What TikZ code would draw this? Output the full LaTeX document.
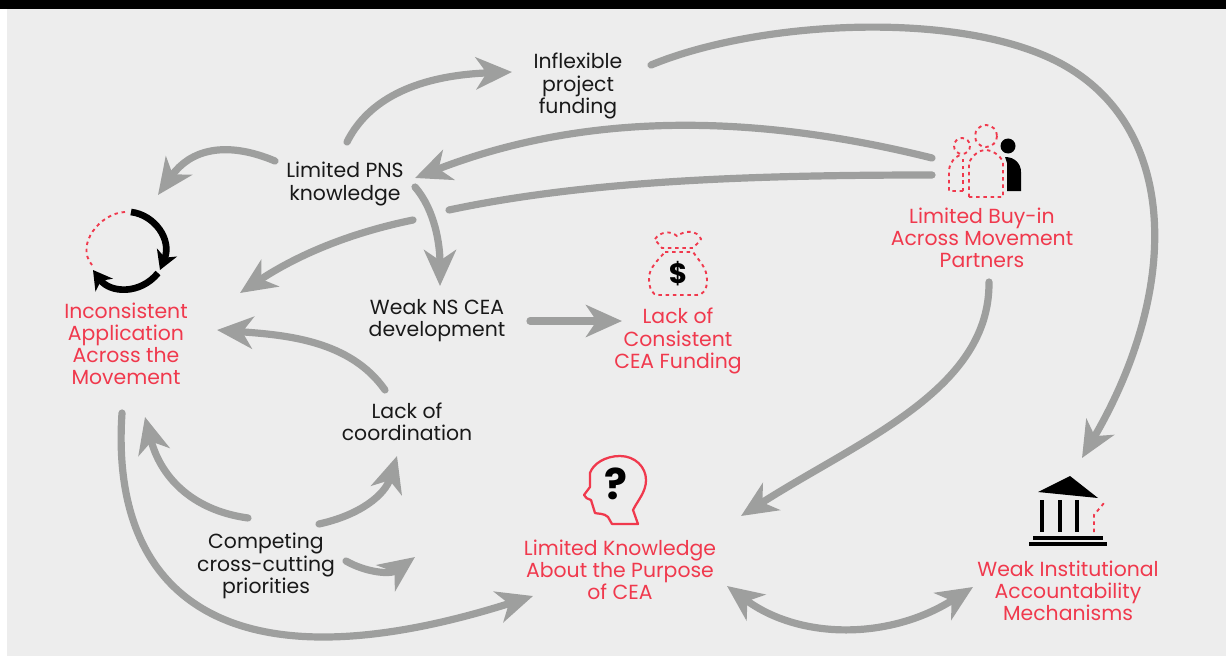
\documentclass[tikz,border=0pt]{standalone}
\usepackage{fontspec}
\setmainfont{Poppins}
\usetikzlibrary{arrows.meta}
\definecolor{panelgrey}{HTML}{EDEDED}
\definecolor{flowgrey}{HTML}{9E9F9E}
\definecolor{issuered}{HTML}{F0394D}
\tikzstyle{cause}=[align=center,inner sep=0pt,text=black!90,font=\fontsize{15.3}{16.6}\selectfont]
\tikzstyle{issue}=[cause,text=issuered]
\tikzstyle{flowline} = [draw=flowgrey,line width=5.4pt,line cap=round]
\tikzstyle{flow} = [flowline,-{Stealth[length=27pt,width=24pt,inset=8pt]}]
\tikzstyle{bothflow} = [flowline,{Stealth[length=27pt,width=24pt,inset=8pt]}-{Stealth[length=27pt,width=24pt,inset=8pt]}]
\tikzstyle{reddash} = [draw=issuered,line width=1.4pt,dash pattern=on 2.6pt off 2.8pt]
\begin{document}
\begin{tikzpicture}[x=0.75pt,y=-0.75pt]
    \useasboundingbox (0,0) rectangle (1226,656);
    \fill[panelgrey] (7,9) rectangle (1226,656);
    \fill[black] (0,0) rectangle (1226,9);

    \foreach \pos/\name/\label in {{(578,86)/fund/{Inflexible\\project\\funding}}, {(345,184)/pns/{Limited PNS\\knowledge}}, {(437,321)/weak/{Weak NS CEA\\development}}, {(407,422)/coord/{Lack of\\coordination}}, {(266,566)/comp/{Competing\\cross-cutting\\priorities}}}
        \node[cause] (\name) at \pos {\label};

    \foreach \pos/\name/\label in {{(126,344)/incons/{Inconsistent\\Application\\Across the\\Movement}}, {(678,341)/money/{Lack of\\Consistent\\CEA Funding}}, {(982,238)/buyin/{Limited Buy-in\\Across Movement\\Partners}}, {(620,570)/know/{Limited Knowledge\\About the Purpose\\of CEA}}, {(1068,591)/inst/{Weak Institutional\\Accountability\\Mechanisms}}}
        \node[issue] (\name) at \pos {\label};

    \coordinate (compend) at (415,557);

    % arrows
    \path[flow] ([shift={(2,-42)}]pns.center) .. controls (372,92) and (430,75) .. ([shift={(-66,-14)}]fund.center);
    \path[flow] ([shift={(73,-21)}]fund.center) .. controls (760,20) and (960,10) .. (1060,63) .. controls (1180,127) and (1180,290) .. ([shift={(14,-133)}]inst.center);
    \path[flow] ([shift={(-50,-80)}]buyin.center) .. controls (760,115) and (590,110) .. ([shift={(70,-6)}]pns.center);
    \path[flowline] ([shift={(-50,-63)}]buyin.center) .. controls (760,175) and (590,180) .. ([shift={(104,26)}]pns.center);
    \path[flow] ([shift={(68,36)}]pns.center) .. controls (340,235) and (290,260) .. ([shift={(114,-51)}]incons.center);
    \path[flow] ([shift={(-70,-23)}]pns.center) .. controls (225,140) and (190,150) .. ([shift={(32,-149)}]incons.center);
    \path[flow] ([shift={(70,3)}]pns.center) .. controls (435,210) and (440,245) .. ([shift={(3,-35)}]weak.center);
    \path[flow] ([shift={(93,0)}]weak.center) -- ([shift={(-56,-20)}]money.center);
    \path[flow] ([shift={(-22,-32)}]coord.center) .. controls (350,340) and (285,335) .. ([shift={(91,-14)}]incons.center);
    \path[flow] ([shift={(-18,-48)}]comp.center) .. controls (190,510) and (160,475) .. ([shift={(19,73)}]incons.center);
    \path[flow] ([shift={(53,-42)}]comp.center) .. controls (360,515) and (385,495) .. ([shift={(-10,34)}]coord.center);
    \path[flow] ([shift={(80,-5)}]comp.center) .. controls (365,572) and (390,575) .. (compend);
    \path[flow] ([shift={(-4,69)}]incons.center) .. controls (110,590) and (220,695) .. ([shift={(-87,26)}]know.center);
    \path[flow] ([shift={(7,44)}]buyin.center) .. controls (990,390) and (860,440) .. ([shift={(121,-54)}]know.center);
    \path[bothflow] ([shift={(107,16)}]know.center) .. controls (800,640) and (890,640) .. ([shift={(-95,-4)}]inst.center);

    % cycle icon
    \draw[reddash] (125,212) .. controls (100,213) and (75,245) .. (92,265);
    \draw[black,line width=5pt,-{Stealth[length=14pt,width=16pt,inset=4pt]}] (131,212) .. controls (155,215) and (172,240) .. (160,270);
    \draw[black,line width=5pt,-{Stealth[length=14pt,width=16pt,inset=4pt]}] (158,273) .. controls (140,295) and (110,293) .. (93,270);

    % group icon
    \draw[reddash] (986,136) circle (11);
    \draw[reddash] (962,146) circle (8);
    \draw[reddash] (969,197) -- (969,163) .. controls (972,155) and (980,150) .. (985,150) .. controls (992,150) and (1000,155) .. (1003,162) -- (1003,197) -- cycle;
    \draw[reddash] (963,191) -- (949,191) -- (949,170) .. controls (950,162) and (955,157) .. (960,155);
    \draw[reddash] (963,191) -- (963,157);
    \fill[black] (1008,146) circle (7.5);
    \fill[black] (1005,157) .. controls (1015,157) and (1021,164) .. (1021,172) -- (1021,191) -- (1007,191) -- (1007,163) -- cycle;

    % money bag icon
    \draw[reddash] (655,239) .. controls (660,232) and (670,230) .. (677,236) .. controls (685,230) and (697,230) .. (701,239) .. controls (699,243) and (695,245) .. (693,248) -- (662,248) .. controls (660,245) and (657,243) .. (655,239);
    \draw[reddash] (665,252) -- (693,252) .. controls (700,262) and (707,268) .. (707,280) .. controls (707,290) and (703,295) .. (697,295) -- (658,295) .. controls (652,295) and (649,288) .. (649,278) .. controls (649,268) and (658,260) .. (665,252);
    \node[font=\fontsize{21}{21}\selectfont\bfseries,inner sep=0pt] (dollar) at (678,274) {\$};

    % head icon
    \draw[issuered,line width=1.7pt,line join=round] (584,495) -- (590,487) -- (590,473) .. controls (593,464) and (605,456) .. (620,456) .. controls (635,456) and (646,467) .. (646,480) .. controls (646,492) and (638,500) .. (633,510) -- (638,524) -- (612,524) -- (608,517) .. controls (604,513) and (598,514) .. (595,513) -- (591,500) .. controls (588,499) and (585,498) .. (584,495) -- cycle;
    \node[font=\fontsize{32}{32}\selectfont\bfseries,inner sep=0pt] (query) at (616,484) {?};

    % bank icon
    \fill[black] (1038,492) -- (1070,476) -- (1098,498) -- cycle;
    \foreach \colx in {1042,1060,1077}
        \fill[black] (\colx-2,500) rectangle (\colx+2,532);
    \fill[black] (1033,536) rectangle (1103,540);
    \fill[black] (1029,542) rectangle (1107,546);
    \draw[reddash] (1094,532) -- (1094,515) -- (1104,503);
\end{tikzpicture}
\end{document}
